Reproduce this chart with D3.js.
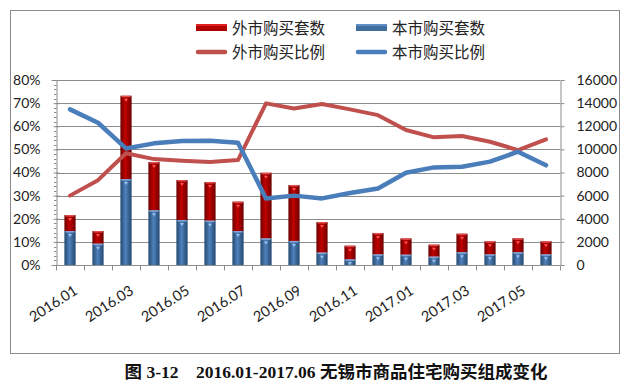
<!DOCTYPE html>
<html><head><meta charset="utf-8">
<script src="https://cdnjs.cloudflare.com/ajax/libs/d3/7.8.5/d3.min.js"></script>
<style>
html,body{margin:0;padding:0;background:#fff;}
svg{display:block;}
</style></head>
<body>
<svg id="chart" width="630" height="391"></svg>
<script>
const months = ['2016.01','2016.02','2016.03','2016.04','2016.05','2016.06','2016.07','2016.08','2016.09','2016.10','2016.11','2016.12','2017.01','2017.02','2017.03','2017.04','2017.05','2017.06'];
const localCount = [2940,1840,7430,4730,3890,3830,2940,2300,2080,1070,490,920,890,720,1100,920,1100,920];
const outsideCount = [1380,1100,7210,4180,3460,3350,2540,5680,4840,2650,1180,1850,1410,1040,1610,1130,1210,1130];
const outsideRatio = [30.0,36.7,48.3,45.8,45.1,44.5,45.4,69.9,67.7,69.6,67.3,64.8,58.4,55.2,55.8,53.3,49.7,54.3];
const localRatio = [67.3,61.5,50.4,52.6,53.6,53.7,52.9,28.8,30.0,28.8,31.1,33.1,39.9,42.2,42.5,44.7,49.0,43.1];
const leftTicks = [0,10,20,30,40,50,60,70,80];
const rightTicks = [0,2000,4000,6000,8000,10000,12000,14000,16000];
const legendNames = ['外市购买套数','本市购买套数','外市购买比例','本市购买比例'];
const titleText = '图 3-12\u00a0\u00a0\u00a0\u00a02016.01-2017.06 无锡市商品住宅购买组成变化';

const svg = d3.select('#chart');
const L = 56, R = 560, T = 80, B = 265;
const font = 'Lato, "Noto Sans CJK SC", sans-serif';

// gradients
const defs = svg.append('defs');
function hgrad(id, edge, mid){
  const g = defs.append('linearGradient').attr('id', id).attr('x1','0').attr('x2','1').attr('y1','0').attr('y2','0');
  g.append('stop').attr('offset','0%').attr('stop-color', edge);
  g.append('stop').attr('offset','45%').attr('stop-color', mid);
  g.append('stop').attr('offset','100%').attr('stop-color', edge);
}
hgrad('gRed', '#6e0000', '#c00000');
hgrad('gBlue', '#24476f', '#4f81bd');

// frame
svg.append('rect').attr('x',10.5).attr('y',10.5).attr('width',609).attr('height',343)
  .attr('fill','none').attr('stroke','#8a8a8a').attr('stroke-width',1);

const x = d3.scaleBand().domain(months).range([L, R]).paddingInner(0.6).paddingOuter(0.3);
const yL = d3.scaleLinear().domain([0, 80]).range([B, T]);
const yR = d3.scaleLinear().domain([0, 16000]).range([B, T]);
const cx = d => x(d) + x.bandwidth()/2;

// gridlines
svg.append('g').selectAll('line').data(leftTicks.filter(t => t > 0)).join('line')
  .attr('x1', L).attr('x2', R).attr('y1', d => Math.round(yL(d))+0.5).attr('y2', d => Math.round(yL(d))+0.5)
  .attr('stroke','#8c8c8c').attr('stroke-width',1);

// left axis
const axL = svg.append('g').attr('transform',`translate(${L+0.5},0)`)
  .call(d3.axisLeft(yL).tickValues(leftTicks).tickFormat(d => d + '%').tickSize(5).tickPadding(11));
axL.select('.domain').attr('stroke','#8c8c8c');
axL.selectAll('.tick line').attr('stroke','#8c8c8c').attr('x2', 3).attr('x1', -3);
axL.selectAll('text').attr('font-family', font).attr('font-size', 14).attr('fill','#222');
svg.append('g').selectAll('line').data(d3.range(0, 80, 2).filter(v => v % 10 !== 0)).join('line')
  .attr('x1', L-2).attr('x2', L+0.5).attr('y1', d => Math.round(yL(d))+0.5).attr('y2', d => Math.round(yL(d))+0.5)
  .attr('stroke','#8c8c8c');

// right axis
const axR = svg.append('g').attr('transform',`translate(${R+0.5},0)`)
  .call(d3.axisRight(yR).tickValues(rightTicks).tickFormat(d3.format('d')).tickSize(4).tickPadding(12));
axR.select('.domain').attr('stroke','#8c8c8c');
axR.selectAll('.tick line').attr('stroke','#8c8c8c');
axR.selectAll('text').attr('font-family', font).attr('font-size', 14).attr('fill','#222');

// top border of plot area
svg.append('line').attr('x1', L).attr('x2', R).attr('y1', T+0.5).attr('y2', T+0.5).attr('stroke','#8c8c8c');

// bottom axis
const step = x.step();
const axB = svg.append('g').attr('transform',`translate(0,${B+0.5})`);
axB.append('line').attr('x1', L).attr('x2', R).attr('stroke','#8c8c8c');
axB.selectAll('line.tk').data(d3.range(months.length+1)).join('line').attr('class','tk')
  .attr('x1', i => Math.round(L + i*step)+0.5).attr('x2', i => Math.round(L + i*step)+0.5)
  .attr('y1', 0).attr('y2', 5).attr('stroke','#8c8c8c');
axB.selectAll('text').data(months.filter((m,i) => i % 2 === 0)).join('text')
  .attr('transform', d => `translate(${cx(d)+3},${19}) rotate(-33)`)
  .attr('text-anchor','end').attr('dy','0.71em')
  .attr('font-family', font).attr('font-size', 14.5).attr('fill','#222')
  .text(d => d);

// stacked bars
const bw = x.bandwidth();
const gBars = svg.append('g');
months.forEach((m, i) => {
  const x0 = x(m);
  const yb0 = yR(0), yb1 = yR(localCount[i]), yb2 = yR(localCount[i] + outsideCount[i]);
  gBars.append('rect').attr('x', x0).attr('y', yb1).attr('width', bw).attr('height', yb0 - yb1).attr('fill','url(#gBlue)');
  gBars.append('rect').attr('x', x0).attr('y', yb2).attr('width', bw).attr('height', yb1 - yb2).attr('fill','url(#gRed)');
  // caps
  gBars.append('rect').attr('x', x0+1).attr('y', yb1).attr('width', bw-2).attr('height', 1.5).attr('fill','#7fa6d6');
  gBars.append('rect').attr('x', x0+1).attr('y', yb2).attr('width', bw-2).attr('height', 1.5).attr('fill','#e05050');
  // little markers
  const mx = x0 + bw/2;
  gBars.append('path').attr('d', `M${mx-2},${yb1+3}L${mx+2},${yb1+3}L${mx},${yb1+6}Z`).attr('fill','#9dc0ea');
  gBars.append('path').attr('d', `M${mx-2},${yb2+3}L${mx+2},${yb2+3}L${mx},${yb2+6}Z`).attr('fill','#ff5050');
});

// lines
const line = d3.line().x(d => cx(d.m)).y(d => yL(d.v));
svg.append('path').datum(months.map((m,i) => ({m, v: outsideRatio[i]})))
  .attr('d', line).attr('fill','none').attr('stroke','#c0504d').attr('stroke-width',4)
  .attr('stroke-linejoin','round').attr('stroke-linecap','round');
svg.append('path').datum(months.map((m,i) => ({m, v: localRatio[i]})))
  .attr('d', line).attr('fill','none').attr('stroke','#4a7ebb').attr('stroke-width',4.5)
  .attr('stroke-linejoin','round').attr('stroke-linecap','round');

// legend
const lg = svg.append('g');
const legendPos = [[196,28],[356,28],[196,52],[356,52]];
legendNames.forEach((name, i) => {
  const [lx, ly] = legendPos[i];
  if (i < 2) {
    lg.append('rect').attr('x', lx).attr('y', ly-4).attr('width', 31).attr('height', 7)
      .attr('fill', i === 0 ? '#b00000' : '#3f6f9f');
    lg.append('rect').attr('x', lx).attr('y', ly-4).attr('width', 31).attr('height', 2)
      .attr('fill', i === 0 ? '#e02020' : '#5f8fc8');
  } else {
    lg.append('line').attr('x1', lx+2).attr('x2', lx+29).attr('y1', ly).attr('y2', ly)
      .attr('stroke', i === 2 ? '#c0504d' : '#4a7ebb').attr('stroke-width', 4.5).attr('stroke-linecap','round');
  }
  lg.append('text').attr('x', lx+36).attr('y', ly).attr('dy','0.36em')
    .attr('font-family','"Noto Sans CJK SC", sans-serif').attr('font-size', 15.5).attr('fill','#222')
    .text(name);
});

// title
svg.append('text').attr('x', 336).attr('y', 372).attr('dy','0.36em').attr('text-anchor','middle')
  .attr('font-family','"Liberation Serif", "Noto Sans CJK SC", serif').attr('font-weight','bold')
  .attr('font-size', 17.5).attr('fill','#111').text(titleText);
</script>
</body></html>
